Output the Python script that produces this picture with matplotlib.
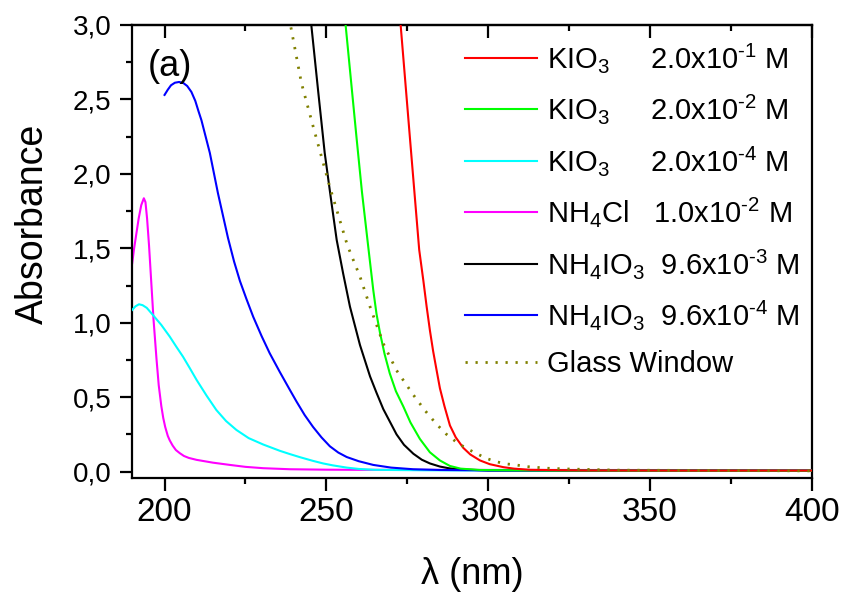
import matplotlib
matplotlib.use('Agg')
import matplotlib.pyplot as plt
from matplotlib.ticker import MultipleLocator, FuncFormatter, NullFormatter

plt.rcParams['font.family'] = ['Liberation Sans', 'DejaVu Sans']
plt.rcParams['mathtext.fontset'] = 'custom'
plt.rcParams['mathtext.rm'] = 'Liberation Sans'
plt.rcParams['mathtext.it'] = 'Liberation Sans:italic'
plt.rcParams['mathtext.default'] = 'regular'

# absorption spectra (wavelength in nm, absorbance)
kio3_1_wl = [272.4, 273.0, 275.8, 278.7, 280.0, 281.0, 282.0, 283.0, 284.0, 285.1, 286.5,
             288.2, 290.0, 292.3, 294.5, 297.5, 300.5, 304.7, 308.0, 313.0, 330.0, 360.0, 400.0]
kio3_1_abs = [3.15, 2.99, 2.25, 1.49, 1.28, 1.108, 0.95, 0.81, 0.69, 0.56, 0.44,
              0.31, 0.23, 0.16, 0.115, 0.075, 0.05, 0.03, 0.02, 0.012, 0.008, 0.007, 0.007]

kio3_2_wl = [255.4, 256.0, 259.3, 261.0, 262.9, 264.5, 265.5, 266.6, 268.0, 269.6, 271.5,
             273.8, 276.0, 278.9, 282.0, 285.1, 288.2, 291.5, 297.5, 320.0, 400.0]
kio3_2_abs = [3.15, 2.99, 2.25, 1.88, 1.52, 1.22, 1.06, 0.93, 0.79, 0.66, 0.54,
              0.437, 0.33, 0.22, 0.13, 0.075, 0.038, 0.02, 0.011, 0.007, 0.006]

kio3_4_wl = [190.0, 191.0, 192.1, 193.2, 194.5, 196.4, 199.0, 201.6, 203.6, 205.7, 207.8,
             209.9, 213.0, 216.0, 219.0, 222.2, 226.0, 230.5, 235.6, 238.7, 242.0, 245.9,
             249.0, 252.0, 256.3, 260.0, 265.0, 280.0, 300.0, 400.0]
kio3_4_abs = [1.086, 1.11, 1.124, 1.118, 1.10, 1.052, 0.985, 0.907, 0.84, 0.772, 0.695,
              0.616, 0.51, 0.414, 0.34, 0.28, 0.225, 0.182, 0.14, 0.118, 0.096, 0.072,
              0.055, 0.042, 0.027, 0.018, 0.012, 0.009, 0.008, 0.007]

nh4cl_wl = [190.0, 190.6, 191.3, 192.0, 192.8, 193.6, 194.1, 194.6, 195.2, 195.9, 196.6,
            197.5, 198.2, 199.0, 199.6, 200.2, 201.0, 201.6, 202.5, 203.5, 204.7, 206.0,
            207.5, 209.9, 215.0, 220.2, 225.0, 230.5, 238.7, 250.0, 260.0, 400.0]
nh4cl_abs = [1.40, 1.50, 1.60, 1.70, 1.79, 1.836, 1.81, 1.70, 1.52, 1.27, 1.02,
             0.76, 0.58, 0.44, 0.36, 0.30, 0.24, 0.21, 0.175, 0.145, 0.124, 0.105,
             0.092, 0.079, 0.06, 0.045, 0.032, 0.023, 0.016, 0.013, 0.012, 0.010]

nh4io3_3_wl = [244.9, 245.4, 247.5, 249.5, 251.5, 253.2, 255.2, 257.3, 260.4, 263.5, 265.5,
               267.6, 271.7, 274.0, 276.9, 279.5, 282.0, 285.1, 288.0, 292.0, 300.0, 400.0]
nh4io3_3_abs = [3.15, 2.99, 2.55, 2.14, 1.82, 1.556, 1.33, 1.108, 0.85, 0.64, 0.53,
                0.42, 0.25, 0.18, 0.12, 0.08, 0.055, 0.034, 0.022, 0.014, 0.008, 0.006]

nh4io3_4_wl = [200.0, 201.0, 202.0, 203.2, 204.5, 205.8, 207.0, 208.3, 209.5, 210.5, 211.4,
               212.7, 214.0, 216.5, 219.6, 221.5, 223.3, 225.3, 227.4, 230.0, 232.5, 235.6,
               238.7, 240.8, 243.3, 245.9, 248.5, 251.1, 253.7, 256.3, 260.0, 264.5, 270.0,
               276.8, 285.0, 300.0, 400.0]
nh4io3_4_abs = [2.53, 2.565, 2.595, 2.612, 2.617, 2.61, 2.59, 2.55, 2.49, 2.42, 2.36,
                2.25, 2.14, 1.87, 1.57, 1.41, 1.28, 1.16, 1.04, 0.91, 0.795, 0.67,
                0.55, 0.47, 0.38, 0.30, 0.23, 0.17, 0.128, 0.098, 0.07, 0.045, 0.027,
                0.016, 0.011, 0.008, 0.006]

glass_wl = [238.6, 239.0, 242.3, 245.9, 251.1, 256.5, 260.4, 263.5, 267.6, 271.7, 276.9,
            280.5, 284.0, 287.0, 290.1, 293.2, 296.2, 299.3, 302.4, 305.5, 308.6, 311.7,
            314.8, 317.9, 324.0, 340.0, 400.0]
glass_abs = [3.05, 2.99, 2.61, 2.32, 1.91, 1.52, 1.31, 1.108, 0.86, 0.68, 0.515,
             0.41, 0.32, 0.253, 0.2, 0.157, 0.124, 0.09, 0.067, 0.052, 0.045, 0.034,
             0.029, 0.023, 0.018, 0.01, 0.005]

labels = [r'KIO$_3$     2.0x10$^{\text{-}1}$ M',
          r'KIO$_3$     2.0x10$^{\text{-}2}$ M',
          r'KIO$_3$     2.0x10$^{\text{-}4}$ M',
          r'NH$_4$Cl   1.0x10$^{\text{-}2}$ M',
          r'NH$_4$IO$_3$  9.6x10$^{\text{-}3}$ M',
          r'NH$_4$IO$_3$  9.6x10$^{\text{-}4}$ M',
          'Glass Window']

fig = plt.figure(figsize=(8.42, 5.94), dpi=100)
ax = fig.add_axes([0.157, 0.196, 0.807, 0.762])

lw = 1.5
ax.plot(kio3_1_wl, kio3_1_abs, color='#ff0000', lw=lw, label=labels[0], zorder=5)
ax.plot(kio3_2_wl, kio3_2_abs, color='#00ff00', lw=lw, label=labels[1], zorder=4)
ax.plot(kio3_4_wl, kio3_4_abs, color='#00ffff', lw=lw, label=labels[2], zorder=3)
ax.plot(nh4cl_wl, nh4cl_abs, color='#ff00ff', lw=lw, label=labels[3], zorder=2)
ax.plot(nh4io3_3_wl, nh4io3_3_abs, color='black', lw=lw, label=labels[4], zorder=3)
ax.plot(nh4io3_4_wl, nh4io3_4_abs, color='#0000ff', lw=lw, label=labels[5], zorder=3)
ax.plot(glass_wl, glass_abs, color='#808000', lw=2.0, linestyle=(0, (0.8, 2.8)),
        label=labels[6], zorder=6)

ax.set_xlim(190, 400)
ax.set_ylim(-0.04, 3.0)

ax.xaxis.set_major_locator(MultipleLocator(50))
ax.xaxis.set_minor_locator(MultipleLocator(25))
ax.yaxis.set_major_locator(MultipleLocator(0.5))
ax.yaxis.set_minor_locator(MultipleLocator(0.25))
ax.yaxis.set_major_formatter(FuncFormatter(lambda v, p: f'{v:.1f}'.replace('.', ',')))

for s in ax.spines.values():
    s.set_linewidth(1.6)

ax.tick_params(axis='x', which='both', direction='out', top=False, labelsize=24, pad=5, width=1.6)
ax.tick_params(axis='y', which='both', direction='out', right=False, labelsize=20, pad=6, width=1.6)
ax.tick_params(which='major', length=9)
ax.tick_params(which='minor', length=4.5)

# top axis: inward ticks, no labels
top = ax.secondary_xaxis('top')
top.xaxis.set_major_locator(MultipleLocator(50))
top.xaxis.set_minor_locator(MultipleLocator(25))
top.xaxis.set_major_formatter(NullFormatter())
top.tick_params(which='both', direction='in', width=1.6)
top.tick_params(which='major', length=9)
top.tick_params(which='minor', length=4.5)
top.spines['top'].set_linewidth(1.6)

ax.set_xlabel('λ (nm)', fontsize=26, labelpad=21)
ax.set_ylabel('Absorbance', fontsize=27)
ax.yaxis.set_label_coords(-0.12, 0.56)

ax.text(194.9, 2.72, '(a)', fontsize=26, ha='left', va='center')

ax.legend(loc='upper left', bbox_to_anchor=(0.49, 0.965), frameon=False, fontsize=21,
          handlelength=2.47, handletextpad=0.34, labelspacing=0.6,
          borderpad=0, borderaxespad=0)

fig.savefig('out.png', dpi=100)
